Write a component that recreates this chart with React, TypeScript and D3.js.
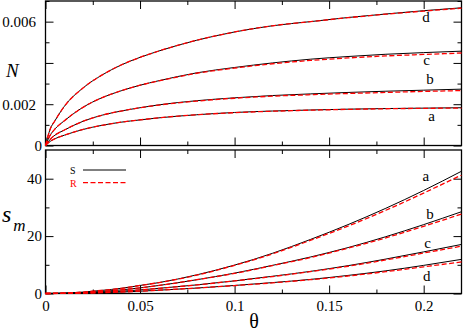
import React, { useEffect, useRef } from 'react';
import * as d3 from 'd3';

// theta grid for the N panel and for the s_m panel
const thetaN = [0, 0.0025, 0.005, 0.01, 0.02, 0.03, 0.04, 0.05, 0.06, 0.08, 0.1, 0.12, 0.14, 0.16, 0.18, 0.2, 0.22];
const thetaS = [0, 0.01, 0.02, 0.03, 0.04, 0.05, 0.06, 0.08, 0.1, 0.12, 0.14, 0.16, 0.18, 0.2, 0.22];

// N(theta), S = solid black, R = dashed red
const nA_S = [0, 0.0002, 0.00033, 0.0005, 0.00078, 0.00098, 0.00113, 0.00124, 0.00134, 0.00149, 0.0016, 0.00167, 0.00172, 0.00176, 0.00179, 0.00181, 0.00183];
const nA_R = [0, 0.0002, 0.00033, 0.0005, 0.00078, 0.00098, 0.00113, 0.00124, 0.00134, 0.00149, 0.00159, 0.00166, 0.00171, 0.00175, 0.00178, 0.0018, 0.00181];
const nB_S = [0, 0.0003, 0.0005, 0.00075, 0.00118, 0.00147, 0.00167, 0.00183, 0.00197, 0.00217, 0.00231, 0.00242, 0.0025, 0.00257, 0.00263, 0.00268, 0.00273];
const nB_R = [0, 0.0003, 0.0005, 0.00075, 0.00118, 0.00147, 0.00167, 0.00183, 0.00196, 0.00215, 0.00229, 0.00239, 0.00246, 0.00252, 0.00257, 0.00262, 0.00266];
const nC_S = [0, 0.0005, 0.0008, 0.0012, 0.00186, 0.00232, 0.00265, 0.00292, 0.00314, 0.00352, 0.00378, 0.004, 0.00418, 0.00431, 0.00442, 0.0045, 0.00457];
const nC_R = [0, 0.0005, 0.0008, 0.0012, 0.00186, 0.00232, 0.00265, 0.00292, 0.00313, 0.0035, 0.00375, 0.00396, 0.00412, 0.00424, 0.00434, 0.00441, 0.00448];
const nD_S = [0, 0.0008, 0.0012, 0.0019, 0.0028, 0.00342, 0.0039, 0.00427, 0.00458, 0.0051, 0.0055, 0.0058, 0.006, 0.0062, 0.00637, 0.00653, 0.00667];
const nD_R = [0, 0.0008, 0.0012, 0.0019, 0.0028, 0.00342, 0.0039, 0.00427, 0.00458, 0.0051, 0.0055, 0.0058, 0.006, 0.00619, 0.00636, 0.00651, 0.00665];

// s_m(theta)
const sA_S = [0, 0.13, 0.5, 1.1, 1.8, 2.8, 3.8, 6.5, 9.9, 14.0, 18.8, 24.0, 29.7, 35.9, 42.6];
const sA_R = [0, 0.13, 0.5, 1.1, 1.8, 2.8, 3.8, 6.4, 9.8, 13.8, 18.5, 23.5, 29.0, 35.0, 41.3];
const sB_S = [0, 0.08, 0.32, 0.72, 1.25, 1.95, 2.8, 4.8, 7.1, 9.8, 12.7, 16.0, 19.8, 24.0, 28.5];
const sB_R = [0, 0.08, 0.32, 0.72, 1.25, 1.95, 2.8, 4.8, 7.0, 9.7, 12.5, 15.8, 19.4, 23.4, 27.7];
const sC_S = [0, 0.05, 0.2, 0.45, 0.8, 1.25, 1.8, 3.0, 4.4, 6.0, 7.7, 9.7, 12.0, 14.5, 17.1];
const sC_R = [0, 0.05, 0.2, 0.45, 0.8, 1.25, 1.8, 3.0, 4.4, 5.9, 7.6, 9.5, 11.7, 14.1, 16.5];
const sD_S = [0, 0.03, 0.12, 0.28, 0.5, 0.8, 1.15, 1.9, 2.8, 3.8, 4.9, 6.3, 7.9, 9.8, 11.9];
const sD_R = [0, 0.03, 0.12, 0.28, 0.5, 0.8, 1.15, 1.9, 2.75, 3.7, 4.8, 6.1, 7.6, 9.3, 11.0];

// tick values
const xMajor = [0, 0.05, 0.1, 0.15, 0.2];
const xMinor = [0.025, 0.075, 0.125, 0.175];
const nMajor = [0, 0.002, 0.004, 0.006];
const nMinor = [0.001, 0.003, 0.005, 0.007];
const nLabels = [0, 0.002, 0.006];
const sMajor = [0, 20, 40];
const sMinor = [10, 30];

// curve labels: [name, theta, value at baseline]
const nCurveLabels: [string, number, number][] = [
  ['d', 0.2012, 0.00596],
  ['c', 0.2016, 0.0039],
  ['b', 0.2033, 0.00296],
  ['a', 0.2042, 0.00119],
];
const sCurveLabels: [string, number, number][] = [
  ['a', 0.2012, 39.1],
  ['b', 0.2033, 26.1],
  ['c', 0.2021, 15.7],
  ['d', 0.2016, 4.5],
];

const W = 463,
  H = 331;
const left = 45.5,
  right = 461.5;
const serif = "'Liberation Serif', 'Times New Roman', Times, serif";
const RED = '#ff0000';

function App() {
  const svgRef = useRef<SVGSVGElement>(null);

  useEffect(() => {
    const svg = d3.select(svgRef.current);
    svg.selectAll('*').remove();

    const x = d3.scaleLinear().domain([0, 0.22]).range([left, right]);
    const yN = d3.scaleLinear().domain([0, 0.007]).range([145.5, 1]);
    const yS = d3.scaleLinear().domain([0, 50]).range([293.5, 150]);

    const styleAxis = (g: any) => {
      g.attr('font-family', serif).attr('font-size', 15);
      g.select('.domain').remove();
      g.selectAll('line').attr('stroke', '#000').attr('stroke-width', 1);
      g.selectAll('text').attr('fill', '#000');
    };

    const panel = (y: any, major: number[], minor: number[], labels: number[] | null, fmt: (d: any) => string, pad: number, xLabels: boolean) => {
      const [y0, y1] = y.range();
      // minor ticks
      svg.append('g').attr('transform', `translate(${left},0)`)
        .call(d3.axisLeft(y).tickValues(minor).tickSize(-4).tickFormat(() => '')).call(styleAxis);
      svg.append('g').attr('transform', `translate(${right},0)`)
        .call(d3.axisRight(y).tickValues(minor).tickSize(-4).tickFormat(() => '')).call(styleAxis);
      svg.append('g').attr('transform', `translate(0,${y0})`)
        .call(d3.axisBottom(x).tickValues(xMinor).tickSize(-4).tickFormat(() => '')).call(styleAxis);
      svg.append('g').attr('transform', `translate(0,${y1})`)
        .call(d3.axisTop(x).tickValues(xMinor).tickSize(-4).tickFormat(() => '')).call(styleAxis);
      // major ticks
      const lg = svg.append('g').attr('transform', `translate(${left},0)`)
        .call(d3.axisLeft(y).tickValues(major).tickSize(-8).tickPadding(pad)
          .tickFormat((d: any) => (labels && !labels.includes(d) ? '' : fmt(d))))
        .call(styleAxis);
      svg.append('g').attr('transform', `translate(${right},0)`)
        .call(d3.axisRight(y).tickValues(major).tickSize(-8).tickFormat(() => '')).call(styleAxis);
      const bg = svg.append('g').attr('transform', `translate(0,${y0})`)
        .call(d3.axisBottom(x).tickValues(xMajor).tickSize(-8).tickPadding(5)
          .tickFormat((d: any) => (xLabels ? String(+d) : '')))
        .call(styleAxis);
      bg.selectAll('text').attr('dy', '0.8em');
      svg.append('g').attr('transform', `translate(0,${y1})`)
        .call(d3.axisTop(x).tickValues(xMajor).tickSize(-8).tickFormat(() => '')).call(styleAxis);
      // frame
      svg.append('rect')
        .attr('x', left).attr('y', y1).attr('width', right - left).attr('height', y0 - y1)
        .attr('fill', 'none').attr('stroke', '#000').attr('stroke-width', 1.3);
      return lg;
    };

    const topLeft = panel(yN, nMajor, nMinor, nLabels, (d) => (d === 0 ? '0' : d3.format('.3f')(d)), 9.5, false);
    topLeft.selectAll('.tick').filter((d: any) => d === 0).select('text').attr('x', -3.5);
    panel(yS, sMajor, sMinor, null, (d) => String(d), 3.5, true);

    // curves
    const drawCurves = (theta: number[], series: number[][], y: any, dashed: boolean) => {
      const line = d3.line<number>()
        .x((_, i) => x(theta[i]))
        .y((d) => y(d))
        .curve(d3.curveMonotoneX);
      series.forEach((vals) => {
        svg.append('path')
          .attr('d', line(vals))
          .attr('fill', 'none')
          .attr('stroke', dashed ? RED : '#000')
          .attr('stroke-width', dashed ? 1.3 : 1)
          .attr('stroke-dasharray', dashed ? '5,2.5' : null);
      });
    };
    drawCurves(thetaN, [nA_S, nB_S, nC_S, nD_S], yN, false);
    drawCurves(thetaN, [nA_R, nB_R, nC_R, nD_R], yN, true);
    drawCurves(thetaS, [sA_S, sB_S, sC_S, sD_S], yS, false);
    drawCurves(thetaS, [sA_R, sB_R, sC_R, sD_R], yS, true);

    // curve labels
    const addLabels = (items: [string, number, number][], y: any) => {
      svg.selectAll(null)
        .data(items)
        .enter()
        .append('text')
        .attr('x', (d) => x(d[1]))
        .attr('y', (d) => y(d[2]))
        .attr('text-anchor', 'middle')
        .attr('font-family', serif)
        .attr('font-size', 15)
        .text((d) => d[0]);
    };
    addLabels(nCurveLabels, yN);
    addLabels(sCurveLabels, yS);

    // legend
    const lg = svg.append('g').attr('font-family', serif).attr('font-size', 10);
    lg.append('text').attr('x', 70).attr('y', 173.5).text('S').attr('fill', '#000');
    lg.append('line').attr('x1', 83).attr('x2', 126).attr('y1', 170).attr('y2', 170)
      .attr('stroke', '#000').attr('stroke-width', 1);
    lg.append('text').attr('x', 70).attr('y', 186.5).text('R').attr('fill', RED);
    lg.append('line').attr('x1', 83).attr('x2', 126).attr('y1', 182.7).attr('y2', 182.7)
      .attr('stroke', RED).attr('stroke-width', 1.3).attr('stroke-dasharray', '5,2.5');

    // axis titles
    svg.append('text').attr('x', 6).attr('y', 77).text('N')
      .attr('font-family', serif).attr('font-size', 19).attr('font-style', 'italic');
    const sm = svg.append('text').attr('x', 2).attr('y', 222)
      .attr('font-family', serif).attr('font-style', 'italic');
    sm.append('tspan').text('s').attr('font-size', 24);
    sm.append('tspan').attr('dx', 2).attr('dy', 9).text('m').attr('font-size', 17);
    svg.append('text').attr('x', 254).attr('y', 328).attr('text-anchor', 'middle').text('θ')
      .attr('font-family', serif).attr('font-size', 20);
  }, []);

  return (
    <svg ref={svgRef} width={W} height={H} style={{ position: 'absolute', left: 0, top: 0, background: '#fff' }} />
  );
}

export default App;
